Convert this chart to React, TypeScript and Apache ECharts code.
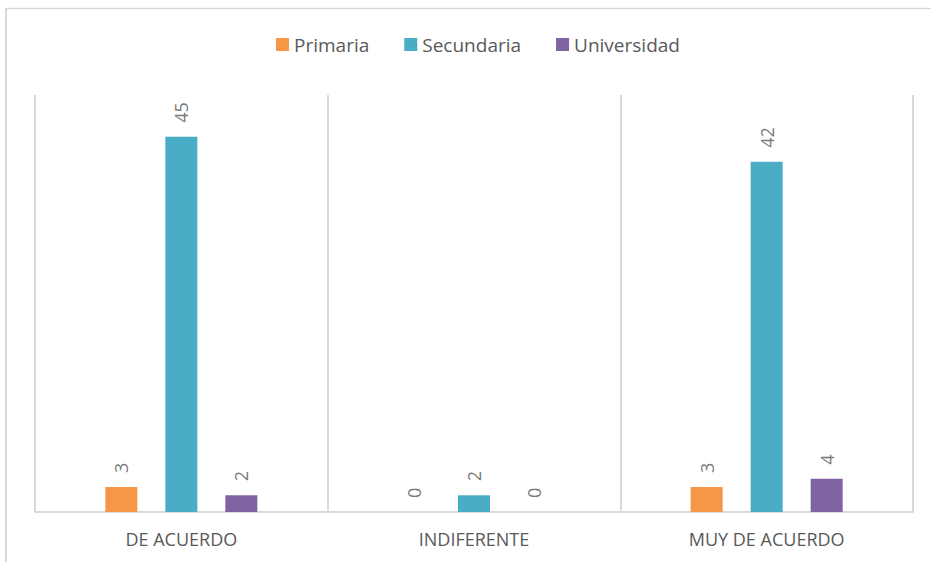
import React, { useEffect, useRef } from "react";
import * as echarts from "echarts";

const categories = ["DE ACUERDO", "INDIFERENTE", "MUY DE ACUERDO"];
const primaria = [3, 0, 3];
const secundaria = [45, 2, 42];
const universidad = [2, 0, 4];
const seriesNames = ["Primaria", "Secundaria", "Universidad"];
const colors = ["#F79646", "#4BACC6", "#8064A2"];

export default function App() {
  const ref = useRef<HTMLDivElement>(null);
  useEffect(() => {
    if (!ref.current) return;
    const chart = echarts.init(ref.current, null, { renderer: "svg" });
    const font = "'Open Sans', 'Liberation Sans', sans-serif";
    const label = {
      show: true,
      position: "top",
      rotate: 90,
      align: "left",
      verticalAlign: "middle",
      distance: 14,
      color: "#7a7a7a",
      fontSize: 18,
      fontFamily: font,
    };
    const data = [primaria, secundaria, universidad];
    chart.setOption({
      animation: false,
      backgroundColor: "#fff",
      color: colors,
      legend: {
        top: 30,
        left: 271,
        itemWidth: 13,
        itemHeight: 13,
        itemGap: 35,
        icon: "rect",
        textStyle: { color: "#595959", fontSize: 19, fontFamily: font },
        data: seriesNames,
      },
      grid: { left: 35, right: 18, top: 95, bottom: 50 },
      xAxis: {
        type: "category",
        data: categories,
        axisLine: { show: true, lineStyle: { color: "#d9d9d9", width: 2 } },
        axisTick: { show: false },
        splitLine: { show: true, interval: 0, lineStyle: { color: "#d9d9d9", width: 2 } },
        axisLabel: {
          color: "#595959",
          fontSize: 18,
          fontFamily: font,
          margin: 18,
        },
      },
      yAxis: {
        type: "value",
        min: 0,
        max: 50,
        show: false,
        splitLine: { show: false },
      },
      graphic: [
        { type: "line", shape: { x1: 5, y1: 8.5, x2: 931, y2: 8.5 }, style: { stroke: "#d9d9d9", lineWidth: 1.5 } },
        { type: "line", shape: { x1: 6, y1: 8, x2: 6, y2: 562 }, style: { stroke: "#d9d9d9", lineWidth: 2 } },
      ],
      series: seriesNames.map((name, i) => ({
        name,
        type: "bar",
        data: data[i],
        barWidth: 32,
        barGap: "87.5%",
        itemStyle: { color: colors[i] },
        label,
      })),
    });
    return () => chart.dispose();
  }, []);
  return <div ref={ref} style={{ position: "fixed", left: 0, top: 0, width: 931, height: 562 }} />;
}
